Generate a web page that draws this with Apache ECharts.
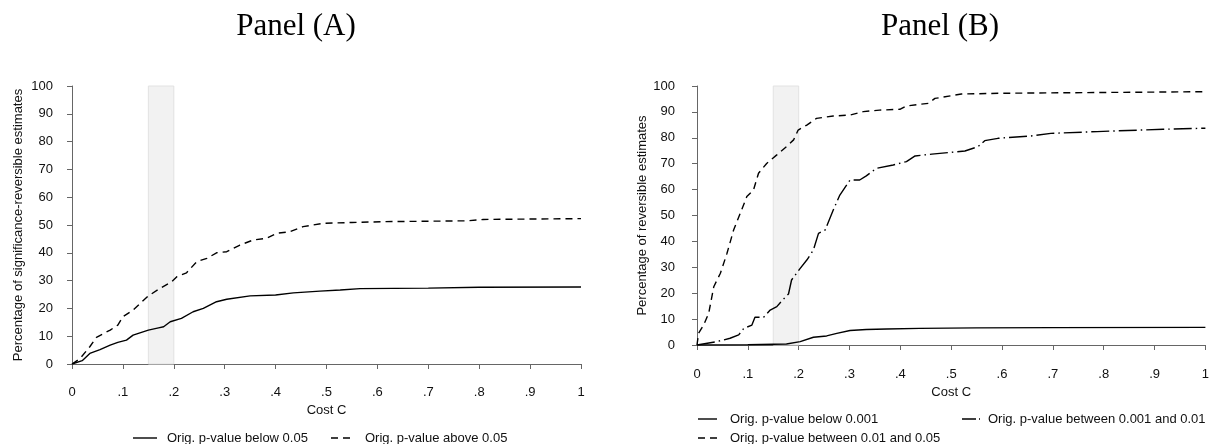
<!DOCTYPE html>
<html>
<head>
<meta charset="utf-8">
<script src="https://cdn.jsdelivr.net/npm/echarts@6/dist/echarts.min.js"></script>
<style>
html,body{margin:0;padding:0;background:#fff;}
#chart{width:1212px;height:444px;}
</style>
</head>
<body>
<div id="chart"></div>
<script>
// ---------- DATA ----------
const xTickLabels = ['0', '.1', '.2', '.3', '.4', '.5', '.6', '.7', '.8', '.9', '1'];
const bandRange = [0.15, 0.2];

// Panel A: Orig. p-value below 0.05 (solid)
const aBelowX = [0, 0.02, 0.035, 0.055, 0.075, 0.09, 0.107, 0.12, 0.15, 0.17, 0.18, 0.193, 0.215, 0.238, 0.258, 0.284, 0.304, 0.35, 0.40, 0.435, 0.487, 0.527, 0.566, 0.70, 0.80, 1.0];
const aBelowY = [0, 1.2, 3.8, 5.2, 6.8, 7.8, 8.6, 10.4, 12.2, 13.0, 13.4, 15.2, 16.4, 18.8, 20, 22.4, 23.3, 24.5, 24.8, 25.6, 26.2, 26.6, 27.1, 27.3, 27.6, 27.7];

// Panel A: Orig. p-value above 0.05 (dashed)
const aAboveX = [0, 0.016, 0.035, 0.048, 0.075, 0.09, 0.10, 0.12, 0.134, 0.15, 0.173, 0.196, 0.206, 0.225, 0.245, 0.265, 0.284, 0.304, 0.33, 0.356, 0.382, 0.402, 0.428, 0.454, 0.494, 0.55, 0.612, 0.775, 0.808, 1.0];
const aAboveY = [0, 2, 6.2, 9.6, 12.2, 14, 17, 19.4, 21.8, 24.5, 27.2, 29.6, 31.4, 32.8, 36.8, 38, 40, 40.4, 42.8, 44.6, 45.2, 47, 47.6, 49.4, 50.6, 50.9, 51.2, 51.5, 52, 52.3];

// Panel B: Orig. p-value below 0.001 (solid)
const bLowX = [0, 0.10, 0.176, 0.203, 0.229, 0.255, 0.275, 0.301, 0.333, 0.373, 0.438, 0.55, 0.70, 1.0];
const bLowY = [0, 0.1, 0.4, 1.3, 3.0, 3.5, 4.5, 5.6, 6.0, 6.2, 6.4, 6.6, 6.7, 6.8];

// Panel B: Orig. p-value between 0.001 and 0.01 (long dash dot)
const bMidX = [0, 0.039, 0.065, 0.082, 0.092, 0.108, 0.114, 0.131, 0.144, 0.157, 0.167, 0.18, 0.186, 0.203, 0.216, 0.229, 0.239, 0.252, 0.268, 0.281, 0.301, 0.320, 0.333, 0.353, 0.386, 0.412, 0.429, 0.462, 0.527, 0.553, 0.566, 0.592, 0.657, 0.696, 0.787, 0.917, 1.0];
const bMidY = [0, 1.3, 2.6, 3.9, 6.4, 7.7, 10.7, 10.7, 13.5, 14.8, 17.1, 19.7, 25.1, 29.6, 32.8, 36.7, 43.1, 44.4, 52.1, 57.9, 63.7, 63.7, 65.3, 68.2, 69.5, 70.8, 73, 73.7, 74.9, 76.6, 78.9, 79.8, 80.7, 81.7, 82.4, 83.3, 83.7];

// Panel B: Orig. p-value between 0.01 and 0.05 (dashed)
const bHighX = [0, 0.003, 0.013, 0.023, 0.033, 0.046, 0.059, 0.072, 0.085, 0.098, 0.111, 0.121, 0.137, 0.157, 0.176, 0.190, 0.199, 0.216, 0.235, 0.268, 0.301, 0.327, 0.359, 0.399, 0.412, 0.455, 0.468, 0.52, 0.6, 0.8, 1.0];
const bHighY = [0, 4.5, 7.7, 12.2, 22.5, 27.7, 35.4, 44.4, 50.8, 57.3, 59.8, 66.3, 70.1, 73.4, 76.6, 79.2, 83, 84.9, 87.5, 88.4, 88.8, 90.1, 90.7, 91, 92.3, 93.3, 95.2, 96.9, 97.2, 97.5, 97.8];

const names = {
  aBelow: 'Orig. p-value below 0.05',
  aAbove: 'Orig. p-value above 0.05',
  bLow: 'Orig. p-value below 0.001',
  bMid: 'Orig. p-value between 0.001 and 0.01',
  bHigh: 'Orig. p-value between 0.01 and 0.05'
};
const titles = ['Panel (A)', 'Panel (B)'];
const yTitles = ['Percentage of significance-reversible estimates', 'Percentage of reversible estimates'];
const xTitle = 'Cost C';

// ---------- STYLE / LAYOUT ----------
const FONT = '"Liberation Sans", Arial, sans-serif';
const AXC = '#666';
const DASH_SHORT = [7, 5];
const DASH_LONGDOT = [18, 4, 1.5, 4];
const LW = 1.4;

// legend layout: [seriesName, lineX1, lineX2, textX, y, dash]
const legendLayout = [
  [names.aBelow, 133, 157, 167, 438, null],
  [names.aAbove, 331, 353, 365, 438, DASH_SHORT],
  [names.bLow, 698, 717, 730, 419, null],
  [names.bMid, 962, 980, 988, 419, [14, 3, 1.5, 10]],
  [names.bHigh, 698, 717, 730, 438, DASH_SHORT]
];

const zip = (xs, ys) => xs.map((x, i) => [x, ys[i]]);

function xAxisCfg(grid, offset, margin, gap) {
  return {
    type: 'value', gridIndex: grid, min: 0, max: 1, interval: 0.1,
    offset: offset,
    axisLine: { show: true, lineStyle: { color: AXC, width: 1 } },
    axisTick: { show: true, length: 5, lineStyle: { color: AXC } },
    splitLine: { show: false },
    axisLabel: { margin: margin, color: '#111', fontFamily: FONT, fontSize: 13,
      formatter: v => xTickLabels[Math.round(v * 10)] },
    name: xTitle, nameLocation: 'middle', nameGap: gap,
    nameTextStyle: { color: '#111', fontFamily: FONT, fontSize: 13 }
  };
}
function yAxisCfg(grid, offset, name, gap) {
  return {
    type: 'value', gridIndex: grid, min: 0, max: 100, interval: 10,
    offset: offset,
    axisLine: { show: true, lineStyle: { color: AXC, width: 1 } },
    axisTick: { show: true, length: 5, lineStyle: { color: AXC } },
    splitLine: { show: false },
    axisLabel: { margin: 8, color: '#111', fontFamily: FONT, fontSize: 13 },
    name: name, nameLocation: 'middle', nameGap: gap,
    nameTextStyle: { color: '#111', fontFamily: FONT, fontSize: 13 }
  };
}
function lineSeries(name, xi, xs, ys, type) {
  return {
    type: 'line', name: name, xAxisIndex: xi, yAxisIndex: xi,
    data: zip(xs, ys), symbol: 'none', showSymbol: false, smooth: false,
    lineStyle: { color: '#000', width: LW, type: type },
    itemStyle: { color: '#000' }, z: 3, animation: false
  };
}
function bandSeries(xi) {
  return {
    type: 'line', xAxisIndex: xi, yAxisIndex: xi, data: [], silent: true,
    markArea: { silent: true,
      itemStyle: { color: '#f2f2f2', borderColor: '#e2e2e2', borderWidth: 1 },
      data: [[{ xAxis: bandRange[0], yAxis: 0 }, { xAxis: bandRange[1], yAxis: 100 }]] },
    z: 1
  };
}

const graphics = [
  { type: 'text', x: 296, y: 27, style: { text: titles[0], textAlign: 'center', textVerticalAlign: 'middle', font: '31px "Liberation Serif", "Times New Roman", serif', fill: '#000' } },
  { type: 'text', x: 940, y: 27, style: { text: titles[1], textAlign: 'center', textVerticalAlign: 'middle', font: '31px "Liberation Serif", "Times New Roman", serif', fill: '#000' } }
];
legendLayout.forEach(([name, x1, x2, tx, y, dash]) => {
  graphics.push({ type: 'line', shape: { x1: x1, y1: y, x2: x2, y2: y },
    style: { stroke: '#000', lineWidth: LW, lineDash: dash || null } });
  graphics.push({ type: 'text', x: tx, y: y, style: { text: name, textAlign: 'left', textVerticalAlign: 'middle',
    font: '13px ' + FONT, fill: '#111' } });
});

const chart = echarts.init(document.getElementById('chart'), null, { renderer: 'canvas' });
chart.setOption({
  animation: false,
  backgroundColor: '#fff',
  grid: [
    { left: 72, top: 86, width: 509, height: 278 },
    { left: 697, top: 86, width: 512, height: 259 }
  ],
  xAxis: [xAxisCfg(0, 10, 12, 25), xAxisCfg(1, 11, 12, 23)],
  yAxis: [yAxisCfg(0, 11, yTitles[0], 36), yAxisCfg(1, 14, yTitles[1], 34)],
  graphic: graphics,
  series: [
    bandSeries(0), bandSeries(1),
    lineSeries(names.aBelow, 0, aBelowX, aBelowY, 'solid'),
    lineSeries(names.aAbove, 0, aAboveX, aAboveY, DASH_SHORT),
    lineSeries(names.bLow, 1, bLowX, bLowY, 'solid'),
    lineSeries(names.bMid, 1, bMidX, bMidY, DASH_LONGDOT),
    lineSeries(names.bHigh, 1, bHighX, bHighY, DASH_SHORT)
  ]
});
</script>
</body>
</html>
